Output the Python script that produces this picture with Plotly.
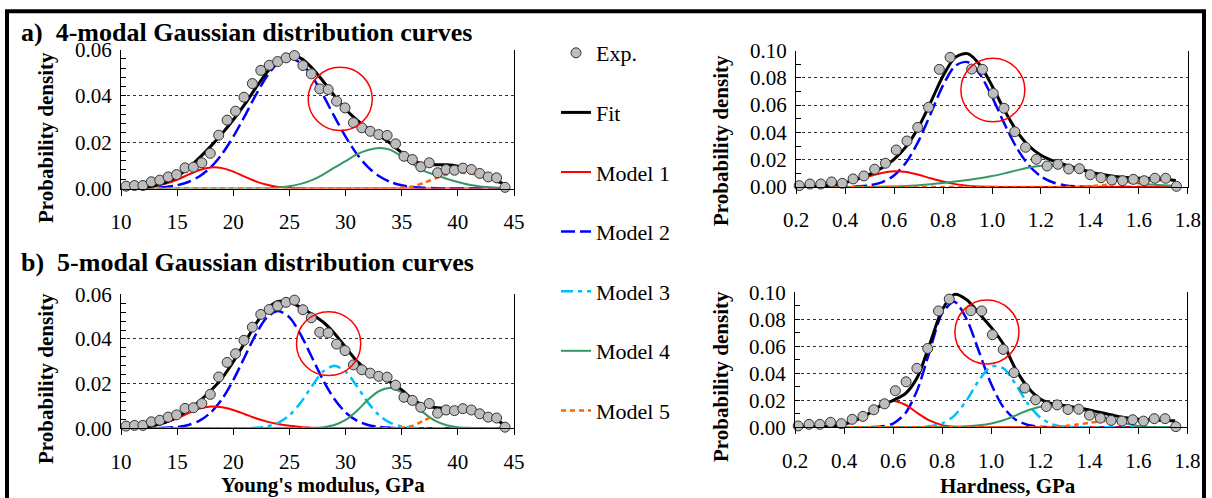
import plotly.graph_objects as go

W, H = 1212, 498
FONT = "Liberation Serif"

# ---------------- DATA ----------------
# Young's modulus (GPa) - experimental histogram points
young_exp_x = [10.45, 11.2, 11.95, 12.7, 13.45, 14.2, 14.95, 15.7, 16.45, 17.2, 17.95, 18.7,
               19.45, 20.2, 20.95, 21.7, 22.45, 23.2, 23.95, 24.7, 25.45, 26.2, 26.95, 27.7,
               28.45, 29.2, 29.95, 30.7, 31.45, 32.2, 32.95, 33.7, 34.45, 35.2, 35.95, 36.7,
               37.45, 38.2, 38.95, 39.7, 40.45, 41.2, 41.95, 42.7, 43.45, 44.2]
young_exp_y = [0.0010, 0.0013, 0.0013, 0.0029, 0.0036, 0.0050, 0.0060, 0.0089, 0.0092, 0.0111,
               0.0152, 0.0230, 0.0295, 0.0334, 0.0394, 0.0453, 0.0510, 0.0532, 0.0548, 0.0564,
               0.0574, 0.0531, 0.0495, 0.0430, 0.0427, 0.0377, 0.0348, 0.0284, 0.0262, 0.0247,
               0.0233, 0.0229, 0.0193, 0.0139, 0.0125, 0.0094, 0.0111, 0.0068, 0.0082, 0.0079,
               0.0088, 0.0082, 0.0065, 0.0050, 0.0046, 0.0005]

# Young's modulus grid for the fitted curves
young_grid = [10, 11, 12, 13, 14, 15, 16, 17, 18, 19, 20, 21, 22, 23, 24, 25, 26, 27, 28, 29,
              30, 31, 32, 33, 34, 35, 36, 37, 38, 39, 40, 41, 42, 43, 44]

# a) 4-modal, Young's modulus
ya_fit = [0.0000, 0.0001, 0.0004, 0.0013, 0.0027, 0.0052, 0.0088, 0.0133, 0.0183, 0.0237,
          0.0297, 0.0362, 0.0434, 0.0502, 0.0553, 0.0575, 0.0563, 0.0521, 0.0463, 0.0401,
          0.0342, 0.0296, 0.0258, 0.0228, 0.0195, 0.0155, 0.0120, 0.0104, 0.0103, 0.0102,
          0.0096, 0.0082, 0.0064, 0.0043, 0.0022]
ya_m1 = [0.0000, 0.0001, 0.0003, 0.0010, 0.0021, 0.0038, 0.0060, 0.0080, 0.0091, 0.0088,
         0.0073, 0.0051, 0.0031, 0.0016, 0.0007, 0.0003, 0.0001, 0, 0, 0,
         0, 0, 0, 0, 0, 0, 0, 0, 0, 0,
         0, 0, 0, 0, 0]
ya_m2 = [0, 0, 0.0001, 0.0003, 0.0006, 0.0014, 0.0028, 0.0053, 0.0092, 0.0149,
         0.0224, 0.0311, 0.0403, 0.0485, 0.0542, 0.0562, 0.0542, 0.0485, 0.0403, 0.0311,
         0.0224, 0.0149, 0.0092, 0.0053, 0.0028, 0.0014, 0.0006, 0.0003, 0.0001, 0,
         0, 0, 0, 0, 0]
ya_m4 = [0, 0, 0, 0, 0, 0, 0, 0, 0, 0,
         0, 0, 0, 0.0001, 0.0004, 0.0010, 0.0020, 0.0036, 0.0060, 0.0090,
         0.0118, 0.0147, 0.0166, 0.0175, 0.0167, 0.0138, 0.0105, 0.0076, 0.0058, 0.0042,
         0.0028, 0.0016, 0.0009, 0.0005, 0.0002]
ya_m5 = [0, 0, 0, 0, 0, 0, 0, 0, 0, 0,
         0, 0, 0, 0, 0, 0, 0, 0, 0, 0,
         0, 0, 0, 0, 0, 0.0003, 0.0009, 0.0025, 0.0044, 0.0060,
         0.0068, 0.0066, 0.0055, 0.0038, 0.0020]

# b) 5-modal, Young's modulus
yb_fit = [0.0000, 0.0001, 0.0004, 0.0013, 0.0028, 0.0051, 0.0083, 0.0122, 0.0169, 0.0225,
          0.0298, 0.0382, 0.0467, 0.0535, 0.0568, 0.0566, 0.0541, 0.0511, 0.0476, 0.0426,
          0.0363, 0.0301, 0.0258, 0.0231, 0.0206, 0.0172, 0.0129, 0.0103, 0.0093, 0.0088,
          0.0083, 0.0077, 0.0066, 0.0050, 0.0020]
yb_m1 = [0.0000, 0.0001, 0.0004, 0.0012, 0.0026, 0.0045, 0.0068, 0.0088, 0.0098, 0.0094,
         0.0082, 0.0064, 0.0045, 0.0030, 0.0019, 0.0011, 0.0006, 0.0003, 0.0001, 0,
         0, 0, 0, 0, 0, 0, 0, 0, 0, 0,
         0, 0, 0, 0, 0]
yb_m2 = [0, 0, 0, 0.0001, 0.0002, 0.0006, 0.0015, 0.0034, 0.0071, 0.0131,
         0.0216, 0.0318, 0.0420, 0.0497, 0.0525, 0.0497, 0.0420, 0.0318, 0.0216, 0.0131,
         0.0071, 0.0034, 0.0015, 0.0006, 0.0002, 0.0001, 0, 0, 0, 0,
         0, 0, 0, 0, 0]
yb_m3 = [0, 0, 0, 0, 0, 0, 0, 0, 0, 0,
         0, 0, 0.0002, 0.0008, 0.0024, 0.0058, 0.0115, 0.0189, 0.0254, 0.0280,
         0.0254, 0.0189, 0.0115, 0.0058, 0.0024, 0.0008, 0.0002, 0, 0, 0,
         0, 0, 0, 0, 0]
yb_m4 = [0, 0, 0, 0, 0, 0, 0, 0, 0, 0,
         0, 0, 0, 0, 0, 0, 0, 0.0001, 0.0005, 0.0015,
         0.0038, 0.0078, 0.0128, 0.0167, 0.0180, 0.0160, 0.0115, 0.0068, 0.0033, 0.0014,
         0.0005, 0.0002, 0, 0, 0]
yb_m5 = [0, 0, 0, 0, 0, 0, 0, 0, 0, 0,
         0, 0, 0, 0, 0, 0, 0, 0, 0, 0,
         0, 0, 0, 0, 0, 0.0003, 0.0012, 0.0035, 0.0060, 0.0074,
         0.0078, 0.0075, 0.0066, 0.0050, 0.0020]

# Hardness (GPa) - experimental histogram points
hard_exp_x = [0.213, 0.257, 0.301, 0.345, 0.389, 0.433, 0.477, 0.521, 0.565, 0.609, 0.653, 0.697,
              0.741, 0.785, 0.829, 0.873, 0.917, 0.961, 1.005, 1.049, 1.093, 1.137, 1.181, 1.225,
              1.269, 1.313, 1.357, 1.401, 1.445, 1.489, 1.533, 1.577, 1.621, 1.665, 1.709, 1.753]
hard_exp_y = [0.0010, 0.0022, 0.0022, 0.0037, 0.0027, 0.0059, 0.0081, 0.0130, 0.0174, 0.0271,
              0.0337, 0.0437, 0.0584, 0.0862, 0.0950, 0.1004, 0.0864, 0.0862, 0.0686, 0.0577,
              0.0405, 0.0291, 0.0203, 0.0154, 0.0166, 0.0132, 0.0134, 0.0090, 0.0068, 0.0051,
              0.0046, 0.0056, 0.0046, 0.0064, 0.0064, 0.0005]

hard_grid = [0.20, 0.25, 0.30, 0.35, 0.40, 0.45, 0.50, 0.55, 0.60, 0.65, 0.70, 0.75, 0.80, 0.85,
             0.90, 0.95, 1.00, 1.05, 1.10, 1.15, 1.20, 1.25, 1.30, 1.35, 1.40, 1.45, 1.50, 1.55,
             1.60, 1.65, 1.70, 1.75]

# a) 4-modal, hardness
ha_fit = [0.0001, 0.0002, 0.0007, 0.0016, 0.0032, 0.0058, 0.0092, 0.0139, 0.0203, 0.0298,
          0.0438, 0.0622, 0.0814, 0.0950, 0.0977, 0.0896, 0.0742, 0.0566, 0.0412, 0.0302,
          0.0233, 0.0191, 0.0161, 0.0136, 0.0111, 0.0091, 0.0077, 0.0069, 0.0065, 0.0063,
          0.0059, 0.0048]
ha_m1 = [0.0001, 0.0002, 0.0007, 0.0016, 0.0031, 0.0054, 0.0080, 0.0103, 0.0115, 0.0110,
         0.0090, 0.0064, 0.0040, 0.0021, 0.0010, 0.0004, 0.0001, 0, 0, 0,
         0, 0, 0, 0, 0, 0, 0, 0, 0, 0,
         0, 0]
ha_m2 = [0, 0, 0, 0, 0.0001, 0.0004, 0.0012, 0.0034, 0.0084, 0.0181,
         0.0336, 0.0538, 0.0744, 0.0888, 0.0915, 0.0828, 0.0661, 0.0466, 0.0290, 0.0159,
         0.0077, 0.0033, 0.0012, 0.0004, 0.0001, 0, 0, 0, 0, 0,
         0, 0]
ha_m4 = [0, 0, 0, 0, 0, 0, 0, 0.0002, 0.0004, 0.0007,
         0.0012, 0.0020, 0.0030, 0.0041, 0.0052, 0.0064, 0.0080, 0.0100, 0.0122, 0.0143,
         0.0156, 0.0158, 0.0149, 0.0130, 0.0104, 0.0078, 0.0055, 0.0038, 0.0026, 0.0018,
         0.0012, 0.0008]
ha_m5 = [0, 0, 0, 0, 0, 0, 0, 0, 0, 0,
         0, 0, 0, 0, 0, 0, 0, 0, 0, 0,
         0, 0, 0, 0.0002, 0.0006, 0.0013, 0.0022, 0.0031, 0.0039, 0.0045,
         0.0047, 0.0040]

# b) 5-modal, hardness
hb_fit = [0.0005, 0.0005, 0.0006, 0.0010, 0.0025, 0.0055, 0.0100, 0.0160, 0.0200, 0.0250,
          0.0375, 0.0620, 0.0870, 0.0985, 0.0945, 0.0845, 0.0740, 0.0615, 0.0430, 0.0295,
          0.0210, 0.0175, 0.0160, 0.0147, 0.0128, 0.0108, 0.0088, 0.0070, 0.0060, 0.0056,
          0.0053, 0.0046]
hb_m1 = [0, 0, 0.0001, 0.0004, 0.0016, 0.0049, 0.0105, 0.0167, 0.0195, 0.0167,
         0.0105, 0.0049, 0.0016, 0.0004, 0.0001, 0, 0, 0, 0, 0,
         0, 0, 0, 0, 0, 0, 0, 0, 0, 0,
         0, 0]
hb_m2 = [0, 0, 0, 0, 0, 0, 0.0001, 0.0006, 0.0028, 0.0104,
         0.0283, 0.0569, 0.0844, 0.0930, 0.0801, 0.0562, 0.0320, 0.0148, 0.0056, 0.0017,
         0.0004, 0.0001, 0, 0, 0, 0, 0, 0, 0, 0,
         0, 0]
hb_m3 = [0, 0, 0, 0, 0, 0, 0, 0, 0, 0,
         0.0001, 0.0007, 0.0029, 0.0087, 0.0201, 0.0347, 0.0450, 0.0437, 0.0318, 0.0174,
         0.0072, 0.0022, 0.0005, 0.0001, 0, 0, 0, 0, 0, 0,
         0, 0]
hb_m4 = [0, 0, 0, 0, 0, 0, 0, 0, 0, 0,
         0, 0.0001, 0.0002, 0.0004, 0.0008, 0.0015, 0.0028, 0.0052, 0.0088, 0.0126,
         0.0152, 0.0163, 0.0162, 0.0138, 0.0110, 0.0082, 0.0054, 0.0028, 0.0010, 0.0003,
         0.0001, 0]
hb_m5 = [0, 0, 0, 0, 0, 0, 0, 0, 0, 0,
         0, 0, 0, 0, 0, 0, 0, 0, 0, 0,
         0, 0.0002, 0.0008, 0.0020, 0.0034, 0.0045, 0.0052, 0.0056, 0.0058, 0.0058,
         0.0056, 0.0050]

young_ticks = [10, 15, 20, 25, 30, 35, 40, 45]
hard_ticks = [0.2, 0.4, 0.6, 0.8, 1.0, 1.2, 1.4, 1.6, 1.8]
hard_ticktext = ["0.2", "0.4", "0.6", "0.8", "1.0", "1.2", "1.4", "1.6", "1.8"]

# ---------------- STYLE ----------------
STY = {
    "fit": dict(color="black", width=3, dash="solid"),
    "m1": dict(color="#FF0000", width=2, dash="solid"),
    "m2": dict(color="#0000FF", width=2.5, dash="14px,5px"),
    "m3": dict(color="#00BFFF", width=2.5, dash="12px,5px,4px,5px"),
    "m4": dict(color="#339966", width=2, dash="solid"),
    "m5": dict(color="#FF6600", width=2.5, dash="5px,4px"),
}
RANK = {"exp": 1, "fit": 2, "m1": 3, "m2": 4, "m3": 5, "m4": 6, "m5": 7}
NAME = {"exp": "Exp.", "fit": "Fit", "m1": "Model 1", "m2": "Model 2", "m3": "Model 3",
        "m4": "Model 4", "m5": "Model 5"}


def pxx(p):
    return p / W


def pxy(p):
    return 1 - p / H


fig = go.Figure()
legend_done = set()


def add_panel(n, grid, fit, models, ex, ey):
    xa = "x" if n == 1 else f"x{n}"
    ya = "y" if n == 1 else f"y{n}"
    order = ["m2", "m1", "m3", "m4", "m5"]
    for key in order:
        if key not in models:
            continue
        show = key not in legend_done
        legend_done.add(key)
        fig.add_trace(go.Scatter(
            x=grid, y=models[key], mode="lines", line=dict(shape="spline", smoothing=0.8, **STY[key]),
            name=NAME[key], legendgroup=key, legendrank=RANK[key], showlegend=show,
            xaxis=xa, yaxis=ya, cliponaxis=False, hoverinfo="skip"))
    show = "fit" not in legend_done
    legend_done.add("fit")
    fig.add_trace(go.Scatter(
        x=grid, y=fit, mode="lines", line=dict(shape="spline", smoothing=0.8, **STY["fit"]),
        name="Fit", legendgroup="fit", legendrank=RANK["fit"], showlegend=show,
        xaxis=xa, yaxis=ya, cliponaxis=False))
    show = "exp" not in legend_done
    legend_done.add("exp")
    fig.add_trace(go.Scatter(
        x=ex, y=ey, mode="markers",
        marker=dict(symbol="circle", size=10, color="#BDBDBD", line=dict(color="#333333", width=1)),
        name="Exp.", legendgroup="exp", legendrank=RANK["exp"], showlegend=show,
        xaxis=xa, yaxis=ya, cliponaxis=False))


add_panel(1, young_grid, ya_fit, {"m1": ya_m1, "m2": ya_m2, "m4": ya_m4, "m5": ya_m5},
          young_exp_x, young_exp_y)
add_panel(2, hard_grid, ha_fit, {"m1": ha_m1, "m2": ha_m2, "m4": ha_m4, "m5": ha_m5},
          hard_exp_x, hard_exp_y)
add_panel(3, young_grid, yb_fit, {"m1": yb_m1, "m2": yb_m2, "m3": yb_m3, "m4": yb_m4, "m5": yb_m5},
          young_exp_x, young_exp_y)
add_panel(4, hard_grid, hb_fit, {"m1": hb_m1, "m2": hb_m2, "m3": hb_m3, "m4": hb_m4, "m5": hb_m5},
          hard_exp_x, hard_exp_y)

tickfont = dict(family=FONT, size=21, color="black")


def xaxis(dom, young):
    d = dict(domain=dom, showgrid=False, zeroline=False, showline=True, linecolor="black",
             linewidth=1, ticks="outside", ticklen=6, tickcolor="black", tickfont=tickfont,
             ticklabelstandoff=8, fixedrange=True, automargin=False)
    if young:
        d.update(range=[10, 45.0001], tickmode="array", tickvals=young_ticks)
    else:
        d.update(range=[0.1999, 1.8001], tickmode="array", tickvals=hard_ticks, ticktext=hard_ticktext)
    return d


def yaxis(dom, young, anchor):
    d = dict(domain=dom, anchor=anchor, zeroline=False, showline=True, mirror=True,
             linecolor="black", linewidth=1, showgrid=True, gridcolor="#333333", griddash="dot",
             gridwidth=1, ticks="inside", ticklen=5, tickcolor="black", tickfont=tickfont,
             tickformat=".2f", tick0=0, dtick=0.02, ticklabelstandoff=4, fixedrange=True,
             automargin=False)
    if young:
        d.update(range=[0, 0.06001], minor=dict(dtick=0.004, tick0=0, ticks="inside", ticklen=5,
                                                 tickcolor="black", showgrid=False))
    else:
        d.update(range=[0, 0.10001], minor=dict(dtick=0.01, tick0=0, ticks="inside", ticklen=5,
                                                 tickcolor="black", showgrid=False))
    return d


dom_a_l_x = [pxx(121), pxx(514)]
dom_a_r_x = [pxx(796), pxx(1188)]
dom_b_l_x = [pxx(121), pxx(514)]
dom_b_r_x = [pxx(795), pxx(1187.4)]
dom_a_l_y = [pxy(188.5), pxy(49.5)]
dom_a_r_y = [pxy(187), pxy(50.5)]
dom_b_l_y = [pxy(428.3), pxy(294.3)]
dom_b_r_y = [pxy(427.3), pxy(292.3)]

fig.update_layout(
    xaxis=dict(xaxis(dom_a_l_x, True), anchor="y"),
    yaxis=yaxis(dom_a_l_y, True, "x"),
    xaxis2=dict(xaxis(dom_a_r_x, False), anchor="y2"),
    yaxis2=yaxis(dom_a_r_y, False, "x2"),
    xaxis3=dict(xaxis(dom_b_l_x, True), anchor="y3"),
    yaxis3=yaxis(dom_b_l_y, True, "x3"),
    xaxis4=dict(xaxis(dom_b_r_x, False), anchor="y4"),
    yaxis4=yaxis(dom_b_r_y, False, "x4"),
)

annotations = []
ann_font_title = dict(family=FONT, size=26, color="black")
annotations.append(dict(text="<b>a)\u00a0 4-modal Gaussian distribution curves</b>", x=pxx(19), y=pxy(32),
                        xref="paper", yref="paper", xanchor="left", yanchor="middle",
                        showarrow=False, font=ann_font_title))
annotations.append(dict(text="<b>b)\u00a0 5-modal Gaussian distribution curves</b>", x=pxx(19), y=pxy(262),
                        xref="paper", yref="paper", xanchor="left", yanchor="middle",
                        showarrow=False, font=ann_font_title))
ylab_font = dict(family=FONT, size=21, color="black")
for cx, cy in [(46, 138), (721, 141), (46, 379), (721, 377)]:
    annotations.append(dict(text="<b>Probability density</b>", x=pxx(cx), y=pxy(cy), xref="paper",
                            yref="paper", xanchor="center", yanchor="middle", textangle=-90,
                            showarrow=False, font=ylab_font))
annotations.append(dict(text="<b>Young's modulus, GPa</b>", x=pxx(323), y=pxy(485), xref="paper",
                        yref="paper", xanchor="center", yanchor="middle", showarrow=False, font=ylab_font))
annotations.append(dict(text="<b>Hardness, GPa</b>", x=pxx(1008), y=pxy(486), xref="paper",
                        yref="paper", xanchor="center", yanchor="middle", showarrow=False, font=ylab_font))

shapes = []
# red highlight circles (data coordinates of each subplot)
circle_line = dict(color="#FF0000", width=1.5)
shapes.append(dict(type="circle", xref="x", yref="y", x0=26.67, x1=32.38, y0=0.0250, y1=0.0523,
                   line=circle_line))
shapes.append(dict(type="circle", xref="x2", yref="y2", x0=0.873, x1=1.134, y0=0.0478, y1=0.0943,
                   line=circle_line))
shapes.append(dict(type="circle", xref="x3", yref="y3", x0=25.63, x1=31.35, y0=0.0236, y1=0.0522,
                   line=circle_line))
shapes.append(dict(type="circle", xref="x4", yref="y4", x0=0.852, x1=1.113, y0=0.0469, y1=0.0943,
                   line=circle_line))
# outer frame
shapes.append(dict(type="rect", xref="paper", yref="paper", x0=pxx(7), x1=pxx(1204),
                   y0=pxy(515), y1=pxy(11.3), line=dict(color="black", width=4), layer="above"))

fig.update_layout(
    width=W, height=H, autosize=False,
    margin=dict(l=0, r=0, t=0, b=0, pad=0, autoexpand=False),
    paper_bgcolor="white", plot_bgcolor="white",
    annotations=annotations, shapes=shapes,
    showlegend=True,
    legend=dict(x=pxx(556), y=pxy(32), xanchor="left", yanchor="top",
                font=dict(family=FONT, size=22, color="black"), tracegroupgap=28,
                bgcolor="rgba(0,0,0,0)", borderwidth=0, itemclick=False, itemdoubleclick=False),
    hovermode=False,
)

fig.write_html("out.html", config={"responsive": False, "displayModeBar": False},
               post_script="document.body.style.margin='0';")
